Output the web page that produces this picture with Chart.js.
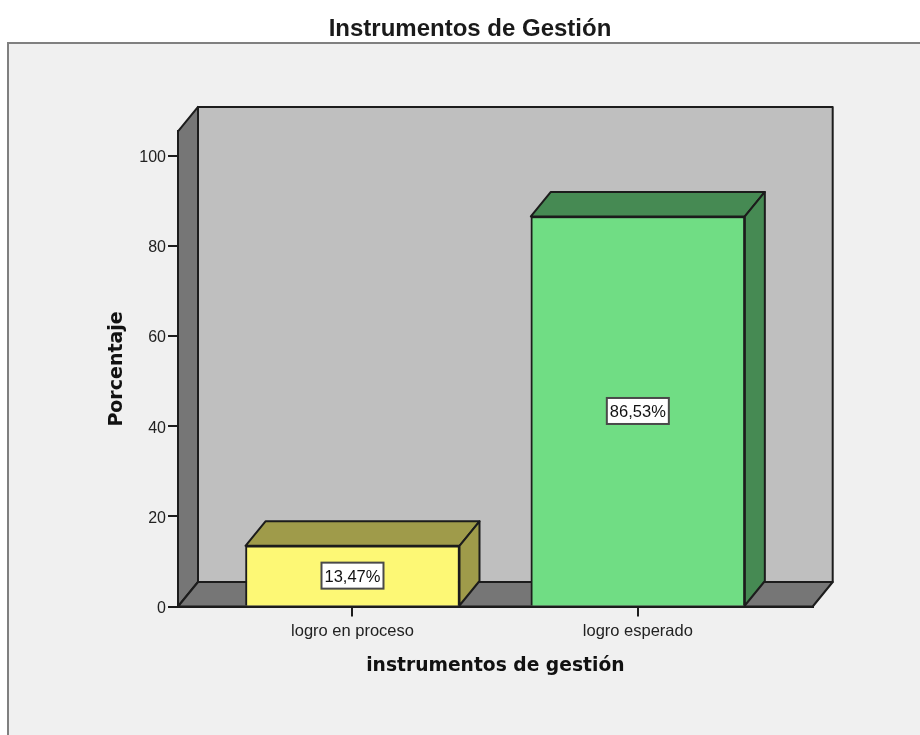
<!DOCTYPE html>
<html>
<head>
<meta charset="utf-8">
<style>html,body{margin:0;padding:0;background:#fff}canvas{display:block}</style>
<script src="https://cdn.jsdelivr.net/npm/chart.js@4"></script>
</head>
<body>
<div style="width:920px;height:735px;position:relative"><canvas id="c" width="920" height="735"></canvas></div>
<script>
const categories = ['logro en proceso', 'logro esperado'];
const positions = [1, 2];
const percentages = [13.47, 86.53];
const valueLabels = ['13,47%', '86,53%'];
const yTicks = [0, 20, 40, 60, 80, 100];
const faceColors = ['#fdf875', '#70dd84'];
const shadeColors = ['#9f9b4a', '#468a53'];

const DX = 20, DY = 24.5;
const LINE = '#1c1c1c';

function poly(ctx, pts, fill) {
  ctx.beginPath();
  pts.forEach((p, i) => i ? ctx.lineTo(p[0], p[1]) : ctx.moveTo(p[0], p[1]));
  ctx.closePath();
  ctx.fillStyle = fill;
  ctx.fill();
  ctx.strokeStyle = LINE;
  ctx.lineWidth = 2;
  ctx.lineJoin = 'round';
  ctx.stroke();
}

const scene = {
  id: 'scene',
  afterLayout(chart) {
    chart.titleBlock.left = 20;
    chart.titleBlock.right = 920;
  },
  beforeDraw(chart) {
    const ctx = chart.ctx;
    ctx.save();
    ctx.fillStyle = '#ffffff';
    ctx.fillRect(0, 0, 920, 735);
    ctx.fillStyle = '#f0f0f0';
    ctx.fillRect(8, 43, 912, 692);
    ctx.strokeStyle = '#808080';
    ctx.lineWidth = 2;
    ctx.beginPath();
    ctx.moveTo(8, 735);
    ctx.lineTo(8, 43);
    ctx.lineTo(920, 43);
    ctx.stroke();
    ctx.restore();
  },
  beforeDatasetsDraw(chart) {
    const ctx = chart.ctx;
    const { left: l, right: r, top: t, bottom: b } = chart.chartArea;
    ctx.save();
    poly(ctx, [[l + DX, t - DY], [r + DX, t - DY], [r + DX, b - DY], [l + DX, b - DY]], '#bfbfbf');
    poly(ctx, [[l, t], [l + DX, t - DY], [l + DX, b - DY], [l, b]], '#767676');
    poly(ctx, [[l, b], [l + DX, b - DY], [r + DX, b - DY], [r, b]], '#767676');
    chart.getDatasetMeta(0).data.forEach((bar, i) => {
      const x0 = bar.x - bar.width / 2, x1 = bar.x + bar.width / 2;
      poly(ctx, [[x0, bar.y], [x0 + DX, bar.y - DY], [x1 + DX, bar.y - DY], [x1, bar.y]], shadeColors[i]);
      poly(ctx, [[x1, bar.y], [x1 + DX, bar.y - DY], [x1 + DX, bar.base - DY], [x1, bar.base]], shadeColors[i]);
    });
    ctx.restore();
  },
  afterDatasetsDraw(chart) {
    const ctx = chart.ctx;
    ctx.save();
    ctx.font = '16.5px "Liberation Sans"';
    ctx.textAlign = 'center';
    ctx.textBaseline = 'middle';
    chart.getDatasetMeta(0).data.forEach((bar, i) => {
      const cy = (bar.y + bar.base) / 2;
      const w = 62, h = 26;
      ctx.fillStyle = '#ffffff';
      ctx.strokeStyle = '#4a4a4a';
      ctx.lineWidth = 2;
      ctx.fillRect(bar.x - w / 2, cy - h / 2, w, h);
      ctx.strokeRect(bar.x - w / 2, cy - h / 2, w, h);
      ctx.fillStyle = '#111111';
      ctx.fillText(valueLabels[i], bar.x, cy + 1.5);
    });
    ctx.restore();
  }
};

new Chart(document.getElementById('c'), {
  type: 'bar',
  data: {
    datasets: [{
      data: positions.map((x, i) => ({ x, y: percentages[i] })),
      backgroundColor: faceColors,
      borderColor: LINE,
      borderWidth: 2,
      barThickness: 214
    }]
  },
  plugins: [scene],
  options: {
    responsive: false,
    animation: false,
    events: [],
    layout: { padding: { top: 0, left: 0, right: 107.3, bottom: 0 } },
    plugins: {
      legend: { display: false },
      tooltip: { enabled: false },
      title: {
        display: true,
        text: 'Instrumentos de Gestión',
        color: '#1a1a1a',
        font: { family: '"Liberation Sans"', size: 24, weight: 'bold' },
        padding: { top: 15, bottom: 87.6 }
      }
    },
    scales: {
      x: {
        type: 'linear',
        offset: false,
        min: 0.3885,
        max: 2.6128,
        afterBuildTicks(s) { s.ticks = positions.map(value => ({ value })); },
        afterFit(s) { s.height = 128.5; },
        grid: { offset: false, drawOnChartArea: false, drawTicks: true, tickLength: 10, color: LINE, lineWidth: 2 },
        border: { display: true, color: LINE, width: 2 },
        ticks: {
          color: '#222222',
          maxRotation: 0,
          autoSkip: false,
          padding: 5,
          font: { family: '"Liberation Sans"', size: 16.5 },
          callback: v => categories[positions.indexOf(v)]
        },
        title: {
          display: true,
          text: 'instrumentos de gestión',
          color: '#111111',
          font: { family: '"DejaVu Sans"', size: 18.7, weight: 'bold' },
          padding: { top: 0, bottom: 58 }
        }
      },
      y: {
        min: 0,
        max: 105.4,
        afterBuildTicks(s) { s.ticks = yTicks.map(value => ({ value })); },
        afterFit(s) { s.width = 178; },
        grid: { drawOnChartArea: false, drawTicks: true, tickLength: 10, color: LINE, lineWidth: 2 },
        border: { display: true, color: LINE, width: 2 },
        ticks: {
          color: '#222222',
          padding: 2,
          labelOffset: 2,
          font: { family: '"Liberation Sans"', size: 16 }
        },
        title: {
          display: true,
          text: 'Porcentaje',
          color: '#111111',
          font: { family: '"DejaVu Sans"', size: 19, weight: 'bold' },
          padding: { top: 106, bottom: 0 }
        }
      }
    }
  }
});
</script>
</body>
</html>
